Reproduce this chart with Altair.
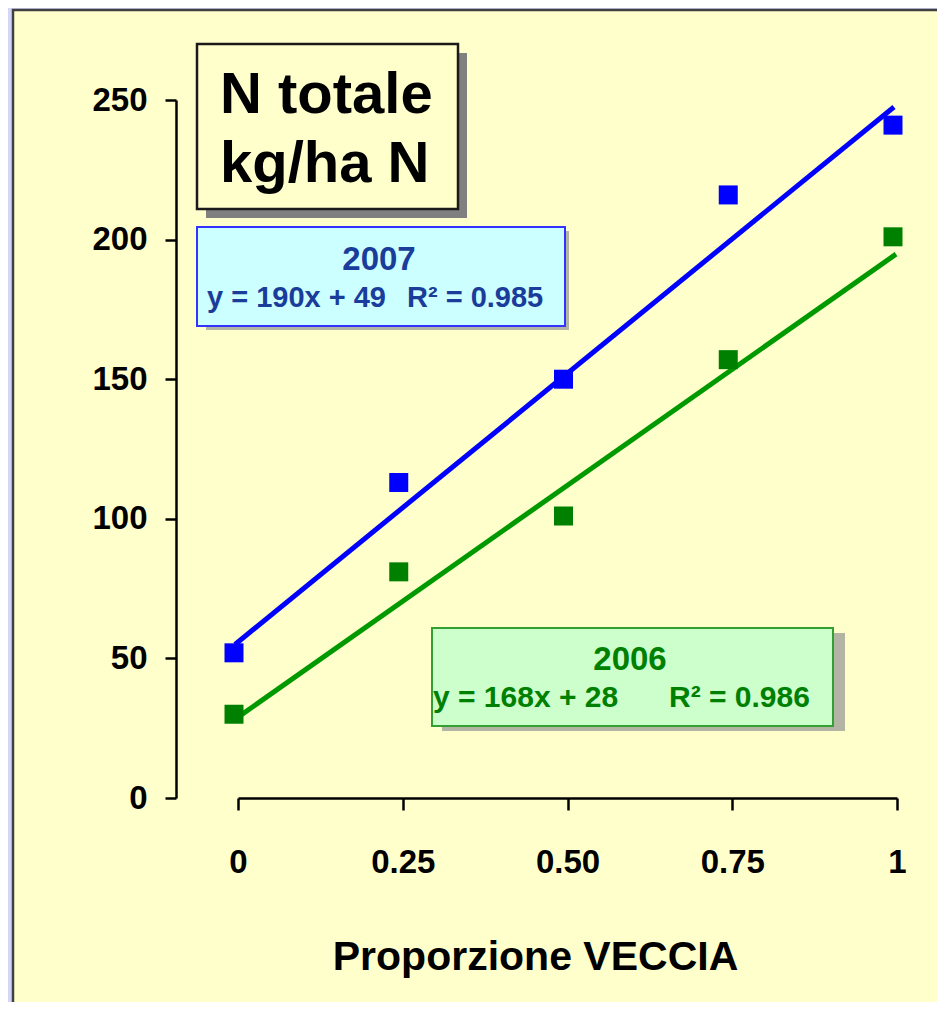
import altair as alt
import pandas as pd

# ---- data ----
proporzione = [0, 0.25, 0.5, 0.75, 1]
n_2007 = [52, 113, 150, 216, 241]
n_2006 = [30, 81, 101, 157, 201]
trend_x = [0, 1]
trend_2007 = [55, 247.5]
trend_2006 = [28.7, 194.8]
x_ticks = [0, 0.25, 0.5, 0.75, 1]
x_tick_labels = ["0", "0.25", "0.50", "0.75", "1"]
y_ticks = [0, 50, 100, 150, 200, 250]

FONT = "Liberation Sans, Arial, Helvetica, sans-serif"
BLUE = "#0000ff"
GREEN_PT = "#008000"
GREEN_LN = "#009900"
BLUE_TXT = "#1a3c9a"
GREEN_TXT = "#008000"

W, H = 659, 698
ONE = alt.Data(values=[{"k": 1}])

df_2007 = pd.DataFrame({"x": proporzione, "y": n_2007})
df_2006 = pd.DataFrame({"x": proporzione, "y": n_2006})
tr_2007 = pd.DataFrame({"x": trend_x, "y": trend_2007})
tr_2006 = pd.DataFrame({"x": trend_x, "y": trend_2006})

label_expr = "".join(
    f"datum.value == {v} ? '{l}' : " for v, l in zip(x_ticks, x_tick_labels)
) + "''"

x_enc = alt.X(
    "x:Q",
    scale=alt.Scale(domain=[0, 1], nice=False, zero=False),
    axis=alt.Axis(
        values=x_ticks, labelExpr=label_expr, title="Proporzione VECCIA",
        grid=False, zindex=1, domainColor="black", domainWidth=2.5,
        tickColor="black", tickWidth=2.5, tickSize=12,
        labelFont=FONT, labelFontSize=33, labelFontWeight="bold",
        labelColor="black", labelPadding=36, labelFlush=False,
        titleFont=FONT, titleFontSize=41, titleFontWeight="bold",
        titleColor="black", titleX=297, titleY=171,
        titleBaseline="alphabetic", titleAlign="center",
    ),
)
y_enc = alt.Y(
    "y:Q",
    scale=alt.Scale(domain=[0, 250], nice=False),
    axis=alt.Axis(
        values=y_ticks, title=None, offset=62,
        grid=False, zindex=1, domainColor="black", domainWidth=2.5,
        tickColor="black", tickWidth=2.5, tickSize=11,
        labelFont=FONT, labelFontSize=33, labelFontWeight="bold",
        labelColor="black", labelPadding=18,
    ),
)


def box(x1, y1, x2, y2, fill, stroke=None, sw=0):
    if stroke:
        m = alt.Chart(ONE).mark_rect(fill=fill, stroke=stroke, strokeWidth=sw)
    else:
        m = alt.Chart(ONE).mark_rect(fill=fill)
    return m.encode(x=alt.value(x1), x2=alt.value(x2), y=alt.value(y1), y2=alt.value(y2))


def txt(x, y, text, size, color, align="left"):
    return alt.Chart(ONE).mark_text(
        text=text, align=align, baseline="alphabetic", fontSize=size,
        fontWeight="bold", color=color, font=FONT,
    ).encode(x=alt.value(x), y=alt.value(y))


panel = box(-225, -90, 720, 920, "#ffffcc", "#404040", 2.5)

# N totale box
n_shadow = box(-32, -47, 229, 118, "#808080")
n_box = box(-41, -56, 220, 109, "#ffffcc", "#1a1a1a", 2.5)
n_t1 = txt(-18, 13, "N totale", 58, "black")
n_t2 = txt(-18, 82, "kg/ha N", 58, "black")

# 2007 box
b_shadow = box(-32, 131, 331, 230, "#b4b4a4")
b_box = box(-41, 127, 327, 226, "#ccffff", "#3333ff", 2)
b_t1 = txt(141, 170, "2007", 33, BLUE_TXT, "center")
b_t2 = txt(-31, 207, "y = 190x + 49", 29, BLUE_TXT)
b_t3 = txt(169, 207, "R² = 0.985", 29, BLUE_TXT)

# 2006 box
g_shadow = box(204, 533, 607, 631, "#b4b4a4")
g_box = box(194, 528, 595, 626, "#ccffcc", "#33a033", 2)
g_t1 = txt(392, 570, "2006", 33, GREEN_TXT, "center")
g_t2 = txt(195, 607, "y = 168x + 28", 30, GREEN_TXT)
g_t3 = txt(431, 607, "R² = 0.986", 30, GREEN_TXT)

line_2007 = alt.Chart(tr_2007).mark_line(
    color=BLUE, strokeWidth=5, strokeCap="butt", xOffset=-3
).encode(x=x_enc, y=y_enc)
line_2006 = alt.Chart(tr_2006).mark_line(
    color=GREEN_LN, strokeWidth=5, strokeCap="butt", xOffset=-1
).encode(x="x:Q", y="y:Q")
pts_2007 = alt.Chart(df_2007).mark_square(
    size=361, color=BLUE, opacity=1, filled=True, xOffset=-4
).encode(x="x:Q", y="y:Q")
pts_2006 = alt.Chart(df_2006).mark_square(
    size=361, color=GREEN_PT, opacity=1, filled=True, xOffset=-4
).encode(x="x:Q", y="y:Q")

chart = alt.layer(
    panel,
    n_shadow, n_box, n_t1, n_t2,
    b_shadow, b_box, b_t1, b_t2, b_t3,
    g_shadow, g_box, g_t1, g_t2, g_t3,
    line_2007, line_2006, pts_2007, pts_2006,
).properties(
    width=W, height=H,
    background="#d5d5fa",
    padding={"left": 230, "top": 92, "right": 40, "bottom": 204},
    autosize=alt.AutoSizeParams(type="none"),
).configure_view(strokeWidth=0)

chart.save("out.html", embed_options={"renderer": "svg", "actions": False})
